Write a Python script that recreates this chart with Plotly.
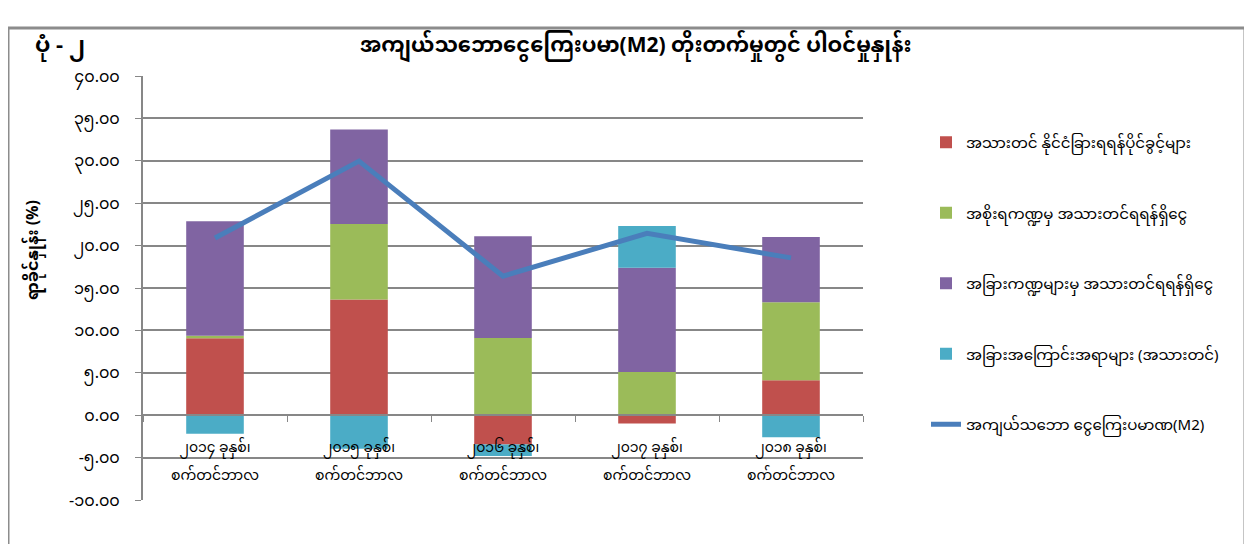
import plotly.graph_objects as go

years = ["၂၀၁၄ ခုနှစ်၊", "၂၀၁၅ ခုနှစ်၊", "၂၀၁၆ ခုနှစ်၊", "၂၀၁၇ ခုနှစ်၊", "၂၀၁၈ ခုနှစ်၊"]
months = ["စက်တင်ဘာလ", "စက်တင်ဘာလ", "စက်တင်ဘာလ", "စက်တင်ဘာလ", "စက်တင်ဘာလ"]
foreign_assets = [9.06, 13.65, -3.45, -0.98, 4.12]
govt_claims = [0.32, 8.9, 9.1, 5.1, 9.2]
other_claims = [13.5, 11.15, 12.0, 12.3, 7.7]
other_items = [-2.2, -3.95, -1.35, 4.9, -2.6]
m2_growth = [20.9, 29.96, 16.4, 21.45, 18.55]

names = ["အသားတင် နိုင်ငံခြားရရန်ပိုင်ခွင့်များ", "အစိုးရကဏ္ဍမှ အသားတင်ရရန်ရှိငွေ",
         "အခြားကဏ္ဍများမှ အသားတင်ရရန်ရှိငွေ", "အခြားအကြောင်းအရာများ (အသားတင်)",
         "အကျယ်သဘော ငွေကြေးပမာဏ(M2)"]
colors = ["#C0504D", "#9BBB59", "#8064A2", "#4BACC6", "#4A7EBB"]

tick_vals = [-10, -5, 0, 5, 10, 15, 20, 25, 30, 35, 40]
tick_text = ["-၁၀.၀၀", "-၅.၀၀", "၀.၀၀", "၅.၀၀", "၁၀.၀၀", "၁၅.၀၀", "၂၀.၀၀",
             "၂၅.၀၀", "၃၀.၀၀", "၃၅.၀၀", "၄၀.၀၀"]

FONT = "Noto Sans Myanmar, Padauk, Myanmar Text, Noto Sans, sans-serif"

fig = go.Figure()
for vals, name, col in zip([foreign_assets, govt_claims, other_claims, other_items], names[:4], colors[:4]):
    fig.add_trace(go.Bar(x=years, y=vals, name=name, marker=dict(color=col, line=dict(width=0)),
                         legendgroup=name, xaxis="x", yaxis="y"))
fig.add_trace(go.Scatter(x=years, y=m2_growth, name=names[4], mode="lines",
                         line=dict(color=colors[4], width=5), legendgroup=names[4],
                         xaxis="x2", yaxis="y"))

# screen-pixel layout (page has an 8px body margin)
OFF = 8
SW, SH = 1252, 544
L, R, T, B = 143, 863, 76, 500
pw, ph = R - L, B - T

def px(x):
    return (x - L) / pw

def py(y):
    return (B - y) / ph

fig.update_layout(
    width=SW - OFF, height=SH - OFF,
    margin=dict(l=L - OFF, r=SW - R, t=T - OFF, b=SH - B),
    paper_bgcolor="white", plot_bgcolor="white",
    barmode="relative", bargap=0.6,
    font=dict(family=FONT, size=14, color="#000000"),
    showlegend=True,
    legend=dict(x=px(926), y=py(126), xanchor="left", yanchor="top",
                tracegroupgap=48, font=dict(size=15), bgcolor="rgba(0,0,0,0)"),
    xaxis=dict(anchor="free", position=0.2, showline=True, linecolor="#878787", linewidth=2,
               ticks="outside", tickson="boundaries", ticklen=6, tickcolor="#878787",
               tickfont=dict(size=14), ticklabelstandoff=19, showgrid=False, fixedrange=True),
    xaxis2=dict(overlaying="x", matches="x", anchor="free", position=0.2, side="bottom",
                showline=False, ticks="", tickvals=years, ticktext=months,
                tickfont=dict(size=14), ticklabelstandoff=50, showgrid=False, fixedrange=True),
    yaxis=dict(range=[-10, 40], tickvals=tick_vals, ticktext=tick_text, showgrid=True,
               gridcolor="#878787", gridwidth=1.5, showline=True, linecolor="#878787",
               linewidth=2, ticks="outside", ticklen=6, tickcolor="#878787",
               tickfont=dict(size=16), ticklabelstandoff=12, zeroline=False, fixedrange=True),
)

fig.add_annotation(text="<b>ရာခိုင်နှုန်း (%)</b>", textangle=-90, xref="paper", yref="paper",
                   x=px(35), y=py(250), showarrow=False, font=dict(size=16, color="#000000"),
                   xanchor="center", yanchor="middle")
fig.add_annotation(text="<b>ပုံ - ၂</b>", xref="paper", yref="paper", x=px(33), y=py(47),
                   showarrow=False, xanchor="left", yanchor="middle", font=dict(size=22))
fig.add_annotation(text="<b>အကျယ်သဘောငွေကြေးပမာ(M2) တိုးတက်မှုတွင် ပါဝင်မှုနှုန်း</b>",
                   xref="paper", yref="paper", x=px(636), y=py(47), showarrow=False,
                   xanchor="center", yanchor="middle", font=dict(size=21))
fig.add_shape(type="rect", xref="paper", yref="paper", x0=px(8), x1=px(1245), y0=py(560), y1=py(28),
              line=dict(color="#8C8C8C", width=3), fillcolor="rgba(0,0,0,0)", layer="below")

fig.write_html("out.html")
